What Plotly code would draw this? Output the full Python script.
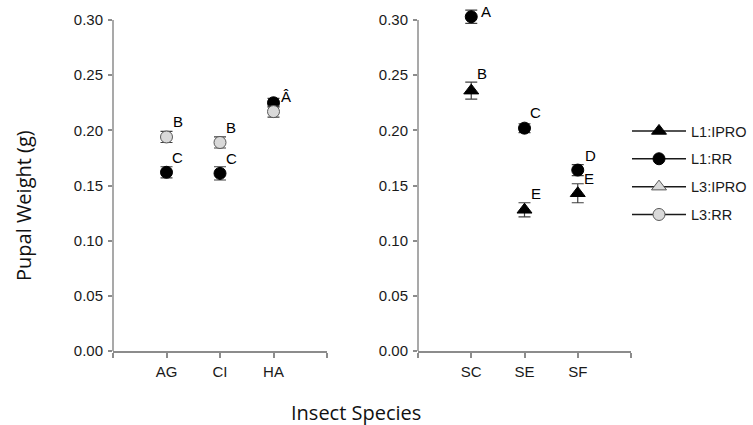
import plotly.graph_objects as go

# ---- data ----
left_categories = ["AG", "CI", "HA"]
right_categories = ["SC", "SE", "SF"]

left_L1_RR = [0.162, 0.161, 0.225]
left_L1_RR_err = [0.005, 0.006, 0.004]
left_L3_RR = [0.194, 0.189, 0.217]
left_L3_RR_err = [0.005, 0.005, 0.005]

right_L1_RR = [0.303, 0.202, 0.164]
right_L1_RR_err = [0.006, 0.004, 0.005]
right_L1_IPRO = [0.236, 0.128, 0.143]
right_L1_IPRO_err = [0.0077, 0.0064, 0.0086]

left_L1_RR_letters = ["C", "C", "Â"]
left_L3_RR_letters = ["B", "B", ""]
right_L1_RR_letters = ["A", "C", "D"]
right_L1_IPRO_letters = ["B", "E", "E"]

series_names = ["L1:IPRO", "L1:RR", "L3:IPRO", "L3:RR"]
y_ticks = [0.00, 0.05, 0.10, 0.15, 0.20, 0.25, 0.30]
y_axis_top = 0.30

# ---- styles ----
BLACK = "#000000"
GRAY_FILL = "#d9d9d9"
GRAY_LINE = "#595959"
AXIS = "#8c8c8c"
ERR = "#404040"
TICK_FONT = dict(family="Arial, Liberation Sans, sans-serif", size=15, color="#1a1a1a")
LETTER_FONT = dict(family="Arial, Liberation Sans, sans-serif", size=15, color="#000000")
TITLE_FONT = dict(family="Open Sans, sans-serif", size=20, color="#111111")

style = {
    "L1:IPRO": dict(symbol="triangle-up", color=BLACK, size=13, line=dict(color=BLACK, width=1)),
    "L1:RR": dict(symbol="circle", color=BLACK, size=12, line=dict(color=BLACK, width=1)),
    "L3:IPRO": dict(symbol="triangle-up", color=GRAY_FILL, size=13, line=dict(color=GRAY_LINE, width=1)),
    "L3:RR": dict(symbol="circle", color=GRAY_FILL, size=12, line=dict(color=GRAY_LINE, width=1)),
}

W, H = 753, 425
L, R, T, B = 113, 122, 9, 74
pw = W - L - R
ph = H - T - B
left_dom = [0, (327 - L) / pw]
right_dom = [(418 - L) / pw, 1]

fig = go.Figure()


def pos(cats):
    return [i + 1 for i in range(len(cats))]


def add_series(cats, vals, errs, name, xa, ya):
    fig.add_trace(go.Scatter(
        x=pos(cats), y=vals, mode="markers", name=name, showlegend=False,
        marker=style[name], cliponaxis=False,
        error_y=dict(type="data", array=errs, visible=True, color=ERR, thickness=1.2, width=6),
        xaxis=xa, yaxis=ya,
    ))


add_series(left_categories, left_L1_RR, left_L1_RR_err, "L1:RR", "x", "y")
add_series(left_categories, left_L3_RR, left_L3_RR_err, "L3:RR", "x", "y")
add_series(right_categories, right_L1_IPRO, right_L1_IPRO_err, "L1:IPRO", "x2", "y2")
add_series(right_categories, right_L1_RR, right_L1_RR_err, "L1:RR", "x2", "y2")

# legend-only entries
for nm in series_names:
    fig.add_trace(go.Scatter(
        x=[None], y=[None], mode="lines+markers", name=nm, legendgroup=nm,
        marker=style[nm], line=dict(color="#1a1a1a", width=1.5),
        xaxis="x", yaxis="y",
    ))

# letters
annotations = []


def add_letters(cats, vals, letters, xref, yref, offsets=None):
    for i, (p, v, t) in enumerate(zip(pos(cats), vals, letters)):
        if not t:
            continue
        dx, dy = (11, 15) if offsets is None or offsets[i] is None else offsets[i]
        annotations.append(dict(x=p, y=v, xref=xref, yref=yref, text=t, showarrow=False,
                                xshift=dx, yshift=dy, font=LETTER_FONT))


add_letters(left_categories, left_L1_RR, left_L1_RR_letters, "x", "y", [None, None, (12, 6)])
add_letters(left_categories, left_L3_RR, left_L3_RR_letters, "x", "y")
add_letters(right_categories, right_L1_RR, right_L1_RR_letters, "x2", "y2", [(15, 5), (11, 16), (13, 15)])
add_letters(right_categories, right_L1_IPRO, right_L1_IPRO_letters, "x2", "y2", [(11, 17), (11, 16), (11, 15)])

annotations.append(dict(text="Insect Species", xref="paper", yref="paper",
                        x=(356 - L) / pw, y=(351 - 412) / ph, xanchor="center", yanchor="middle",
                        showarrow=False, font=TITLE_FONT))
annotations.append(dict(text="Pupal Weight (g)", xref="paper", yref="paper",
                        x=(24 - L) / pw, y=(351 - 206) / ph, xanchor="center", yanchor="middle",
                        textangle=-90, showarrow=False, font=TITLE_FONT))


def xaxis(dom, cats, anchor):
    return dict(domain=dom, range=[0, len(cats) + 1], tickmode="array",
                tickvals=[0] + pos(cats) + [len(cats) + 1],
                ticktext=[""] + cats + [""], showline=True, linecolor=AXIS, linewidth=1.5,
                ticks="outside", ticklen=5, tickwidth=1.5, tickcolor=AXIS, showgrid=False,
                zeroline=False, tickfont=TICK_FONT, ticklabelstandoff=1, anchor=anchor, fixedrange=True)


def yaxis(anchor):
    return dict(range=[0, 0.31], tickmode="array", tickvals=y_ticks,
                ticktext=[f"{v:.2f}" for v in y_ticks], showline=False,
                ticks="outside", ticklen=4, tickwidth=1.5, tickcolor=AXIS, showgrid=False,
                zeroline=False, tickfont=TICK_FONT, ticklabelstandoff=2, anchor=anchor, fixedrange=True)


shapes = [
    dict(type="line", xref="x domain", yref="y", x0=0, x1=0, y0=0, y1=y_axis_top,
         line=dict(color=AXIS, width=1.5)),
    dict(type="line", xref="x2 domain", yref="y2", x0=0, x1=0, y0=0, y1=y_axis_top,
         line=dict(color=AXIS, width=1.5)),
]

fig.update_layout(
    width=W, height=H,
    margin=dict(l=L, r=R, t=T, b=B, autoexpand=False),
    paper_bgcolor="white", plot_bgcolor="white",
    xaxis=xaxis(left_dom, left_categories, "y"),
    xaxis2=xaxis(right_dom, right_categories, "y2"),
    yaxis=yaxis("x"),
    yaxis2=yaxis("x2"),
    annotations=annotations,
    shapes=shapes,
    showlegend=True,
    legend=dict(x=1.0 - 4 / pw, xanchor="left", y=(351 - 115) / ph, yanchor="top",
                font=dict(family="Arial, Liberation Sans, sans-serif", size=14.5, color="#1a1a1a"),
                tracegroupgap=6, itemwidth=54, bgcolor="rgba(0,0,0,0)"),
)

# place the figure flush with the page's top-left corner
fig.write_html("out.html", config={"displayModeBar": False},
               post_script="document.body.style.margin = '0';")
